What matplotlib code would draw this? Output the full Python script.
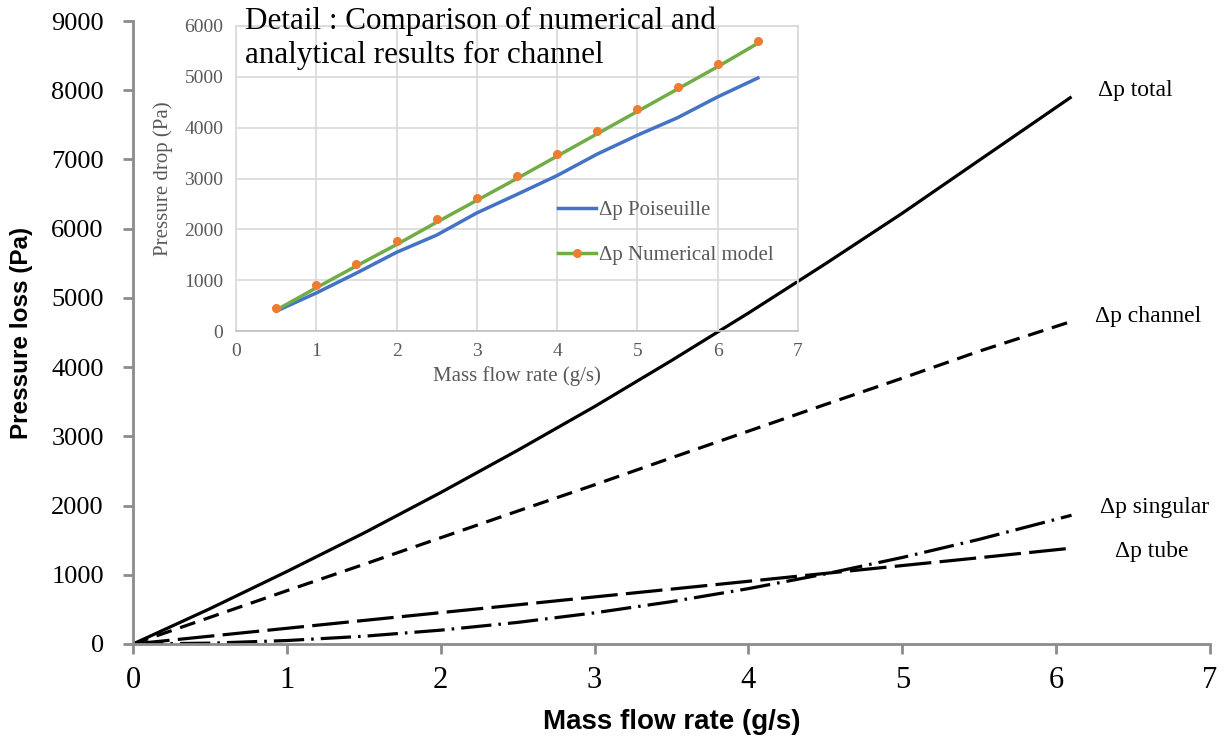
import matplotlib
matplotlib.use("Agg")
import matplotlib.pyplot as plt
from matplotlib.lines import Line2D

# ---------------- data ----------------
flow = [0, 0.5, 1, 1.5, 2, 2.5, 3, 3.5, 4, 4.5, 5, 5.5, 6.1]
dp_total = [0, 510, 1047, 1602, 2188, 2798, 3430, 4095, 4781, 5492, 6223, 6988, 7905]
dp_channel = [0, 385, 770, 1150, 1535, 1920, 2300, 2690, 3075, 3460, 3840, 4230, 4660]
dp_singular = [0, 12, 50, 112, 200, 312, 450, 612, 800, 1012, 1250, 1512, 1860]
dp_tube = [0, 113, 227, 340, 453, 566, 680, 793, 906, 1020, 1133, 1246, 1385]

series_labels = ["Δp total", "Δp channel", "Δp singular", "Δp tube"]

inset_flow = [0.5, 1, 1.5, 2, 2.5, 3, 3.5, 4, 4.5, 5, 5.5, 6, 6.5]
poiseuille = [390, 748, 1139, 1548, 1887, 2323, 2687, 3058, 3481, 3852, 4196, 4606, 4977]
numerical_pts = [455, 898, 1327, 1770, 2212, 2609, 3051, 3487, 3930, 4366, 4808, 5250, 5712]
numerical_line = [410, 850, 1280, 1700, 2140, 2570, 3000, 3440, 3880, 4320, 4760, 5200, 5660]

main_xticks = [0, 1, 2, 3, 4, 5, 6, 7]
main_yticks = [0, 1000, 2000, 3000, 4000, 5000, 6000, 7000, 8000, 9000]
inset_xticks = [0, 1, 2, 3, 4, 5, 6, 7]
inset_yticks = [0, 1000, 2000, 3000, 4000, 5000, 6000]

# ---------------- figure ----------------
SERIF = ["Liberation Serif", "DejaVu Serif"]
SANS = ["Liberation Sans", "DejaVu Sans"]

fig = plt.figure(figsize=(12.25, 7.4), dpi=100)
ax = fig.add_axes([133/1225, 1-644/740, (1210-133)/1225, (644-21)/740])

axis_gray = "#8c8c8c"
ax.plot(flow, dp_total, color="black", lw=2.3, solid_capstyle="butt")
ax.plot(flow, dp_channel, color="black", lw=2.3, linestyle=(0, (5.0, 2.8)))
ax.plot(flow, dp_singular, color="black", lw=2.3, linestyle=(0, (9.5, 2.2, 0.8, 2.2)))
ax.plot(flow, dp_tube, color="black", lw=2.3, linestyle=(0, (11.5, 2.6)))

offsets = [(26, 6), (23, 5), (28, 8), (43, -3)]
for s, lab, off in zip([dp_total, dp_channel, dp_singular, dp_tube], series_labels, offsets):
    ax.annotate(lab, xy=(flow[-1], s[-1]), xytext=off, textcoords="offset pixels",
                ha="left", va="center", fontsize=17, family=SERIF, color="black")

ax.set_xlim(0, 7)
ax.set_ylim(0, 9000)
ax.set_xticks(main_xticks)
ax.set_yticks(main_yticks)
for side in ["top", "right"]:
    ax.spines[side].set_visible(False)
for side in ["left", "bottom"]:
    ax.spines[side].set_color(axis_gray)
    ax.spines[side].set_linewidth(2)
ax.tick_params(axis="both", direction="out", length=7, width=2, color=axis_gray)
ax.tick_params(axis="x", labelsize=22, pad=9)
ax.tick_params(axis="y", labelsize=19, pad=14)
for lbl in ax.get_xticklabels() + ax.get_yticklabels():
    lbl.set_family(SERIF)
ax.set_xlabel("Mass flow rate (g/s)", fontsize=20, fontweight="bold", family=SANS)
ax.set_ylabel("Pressure loss (Pa)", fontsize=17.5, fontweight="bold", family=SANS)
ax.xaxis.set_label_coords(0.5, -0.104)
ax.yaxis.set_label_coords(-0.093, 0.5)

# ---------------- inset ----------------
ins = fig.add_axes([236/1225, 1-331/740, (798-236)/1225, (331-26)/740])
ins.set_facecolor("none")
grid_c = "#d9d9d9"
ins.set_xlim(0, 7)
ins.set_ylim(0, 6000)
ins.set_xticks(inset_xticks)
ins.set_yticks(inset_yticks)
ins.grid(True, color=grid_c, lw=1.2)
ins.set_axisbelow(True)
for side in ins.spines:
    ins.spines[side].set_color(grid_c)
    ins.spines[side].set_linewidth(1.2)
ins.spines["bottom"].set_color("#bfbfbf")
ins.tick_params(axis="both", length=0, labelsize=14, labelcolor="#595959", pad=9)
for lbl in ins.get_xticklabels() + ins.get_yticklabels():
    lbl.set_family(SERIF)
ins.set_xlabel("Mass flow rate (g/s)", fontsize=15, color="#595959", family=SERIF)
ins.set_ylabel("Pressure drop (Pa)", fontsize=15, color="#595959", family=SERIF)
ins.xaxis.set_label_coords(0.5, -0.115)
ins.yaxis.set_label_coords(-0.112, 0.5)

blue = "#4472c4"
green = "#70ad47"
orange = "#ed7d31"
ins.plot(inset_flow, poiseuille, color=blue, lw=2.5)
ins.plot(inset_flow, numerical_line, color=green, lw=2.5)
ins.plot(inset_flow, numerical_pts, linestyle="none", marker="o", ms=5.5,
         markerfacecolor=orange, markeredgecolor=orange)

handles = [Line2D([], [], color=blue, lw=2.5),
           Line2D([], [], color=green, lw=2.5, marker="o", ms=5.5,
                  markerfacecolor=orange, markeredgecolor=orange)]
leg = ins.legend(handles, ["Δp Poiseuille", "Δp Numerical model"],
                 loc="center left", bbox_to_anchor=((558-236)/562, 0.322), frameon=False,
                 prop={"family": SERIF, "size": 15}, labelcolor="#595959",
                 handlelength=1.8, handletextpad=0.15, labelspacing=1.2, borderpad=0,
                 borderaxespad=0)

fig.text(245/1225, 1-7/740, "Detail : Comparison of numerical and\nanalytical results for channel",
         ha="left", va="top", fontsize=22.4, family=SERIF, color="black", linespacing=1.22)

fig.savefig("out.png", dpi=100)
